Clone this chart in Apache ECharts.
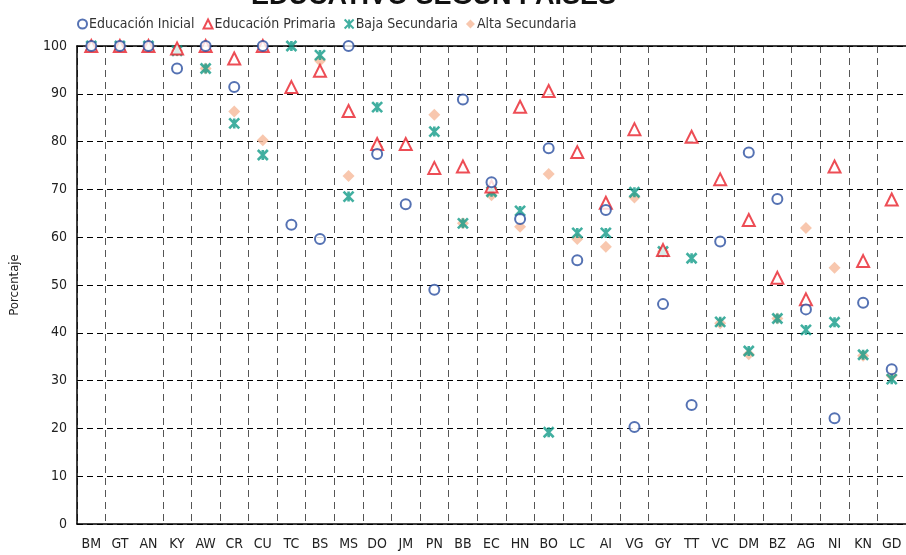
<!DOCTYPE html>
<html>
<head>
<meta charset="utf-8">
<script src="https://cdn.jsdelivr.net/npm/echarts@6/dist/echarts.min.js"></script>
<style>
  html, body { margin: 0; padding: 0; background: #fff; }
  #chart { width: 906px; height: 555px; }
</style>
</head>
<body>
<div id="chart"></div>
<script>
// datos
var paises = ["BM","GT","AN","KY","AW","CR","CU","TC","BS","MS","DO","JM","PN","BB","EC","HN","BO","LC","AI","VG","GY","TT","VC","DM","BZ","AG","NI","KN","GD"];
var inicial =    [100,100,100,95.3,100,91.4,100,62.6,59.6,100,77.4,66.9,49.0,88.8,71.5,63.8,78.6,55.2,65.7,20.3,46.0,24.9,59.1,77.7,68.0,44.9,22.1,46.3,32.4];
var primaria =   [100,100,100,99.5,100,97.4,100,91.4,94.8,86.4,79.5,79.5,74.5,74.8,70.6,87.3,90.6,77.8,67.2,82.6,57.3,81.0,72.1,63.6,51.5,47.0,74.8,55.0,67.9];
var bajaSec =    [100,100,100,99.0,95.3,83.8,77.2,100,98.1,68.5,87.2,null,82.1,62.9,69.5,65.5,19.2,60.9,60.9,69.4,57.0,55.6,42.3,36.2,43.0,40.6,42.2,35.4,30.3];
var altaSec =    [100,100,100,99.0,95.3,86.3,80.3,null,96.9,72.8,79.0,null,85.6,62.9,68.8,62.2,73.2,59.6,58.0,68.3,57.0,null,42.0,35.5,43.0,61.9,53.6,35.2,31.0];
var yTicks = [0,10,20,30,40,50,60,70,80,90,100];

var fuente = "'DejaVu Sans Condensed', 'Liberation Sans Narrow', sans-serif";
var estrella = "path://M0,0L10,10M10,0L0,10M5,0L5,10";

var myChart = echarts.init(document.getElementById("chart"));

var option = {
    animation: false,
    title: {
        text: "EDUCATIVO SEGÚN PAÍSES",
        left: 246,
        top: -22,
        textStyle: { fontFamily: "'Liberation Sans', sans-serif", fontSize: 27, fontWeight: "bold", color: "#111" }
    },
    legend: {
        left: 72,
        top: 12,
        itemWidth: 9,
        itemHeight: 9,
        itemGap: 8,
        textStyle: { fontFamily: fuente, fontSize: 14, color: "#333", padding: [0, 0, 0, -3] },
        data: ["Educación Inicial", "Educación Primaria", "Baja Secundaria", "Alta Secundaria"]
    },
    grid: { left: 73, right: 0, top: 46, bottom: 31 },
    xAxis: [{
        type: "category",
        data: paises,
        boundaryGap: true,
        axisLine: { lineStyle: { color: "#000", width: 1.5 } },
        axisTick: { show: false },
        axisLabel: { interval: 0, color: "#222", fontFamily: fuente, fontSize: 14, margin: 13 },
        splitLine: {
            show: true,
            // las líneas GT|AN y GY|TT no aparecen en el original
            interval: function (index) { return index !== 2 && index !== 21; },
            lineStyle: { color: "#555", type: [7, 5], width: 1 }
        }
    }, {
        type: "category",
        data: paises,
        position: "top",
        axisLine: { lineStyle: { color: "#000", width: 1.5 } },
        axisTick: { show: false },
        axisLabel: { show: false },
        splitLine: { show: false }
    }],
    yAxis: {
        type: "value",
        min: yTicks[0],
        max: yTicks[yTicks.length - 1],
        interval: 10,
        name: "Porcentaje",
        nameLocation: "middle",
        nameRotate: 90,
        nameGap: 56,
        nameTextStyle: { fontFamily: fuente, fontSize: 13, color: "#222" },
        axisLine: { show: true, lineStyle: { color: "#000", width: 1.5 } },
        axisTick: { show: false },
        axisLabel: { color: "#222", fontFamily: fuente, fontSize: 14, margin: 10 },
        splitLine: { lineStyle: { color: "#000", type: [6, 4], width: 1 } }
    },
    series: [
        {
            name: "Alta Secundaria",
            type: "scatter",
            z: 2,
            symbol: "diamond",
            symbolSize: 12,
            itemStyle: { color: "#f6b99a" },
            data: altaSec
        },
        {
            name: "Baja Secundaria",
            type: "scatter",
            z: 3,
            symbol: estrella,
            symbolSize: 10,
            itemStyle: { color: "#129b88", borderColor: "#129b88", borderWidth: 2.6 },
            data: bajaSec
        },
        {
            name: "Educación Primaria",
            type: "scatter",
            z: 4,
            symbol: "emptyTriangle",
            symbolSize: 12,
            itemStyle: { color: "#e8202a", borderColor: "#e8202a", borderWidth: 2.6 },
            data: primaria
        },
        {
            name: "Educación Inicial",
            type: "scatter",
            z: 5,
            symbol: "emptyCircle",
            symbolSize: 10,
            itemStyle: { color: "#2a4fa0", borderColor: "#2a4fa0", borderWidth: 2.6 },
            data: inicial
        }
    ]
};
myChart.setOption(option);
</script>
</body>
</html>
